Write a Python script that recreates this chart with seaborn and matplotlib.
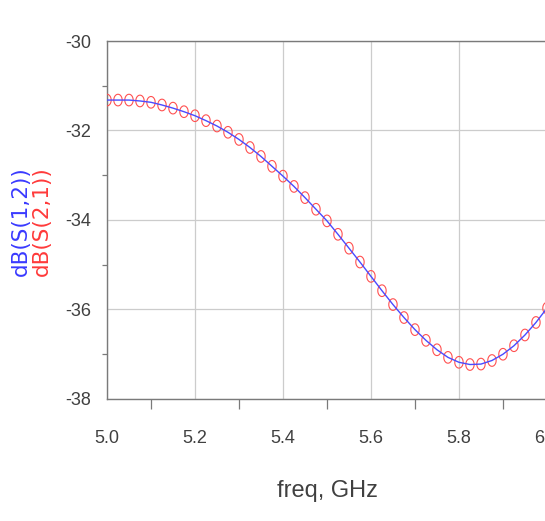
import numpy as np
import pandas as pd
import matplotlib
matplotlib.use("Agg")
import matplotlib.pyplot as plt
import seaborn as sns
from matplotlib.ticker import MultipleLocator

# data (freq in GHz, magnitude in dB)
freq = [5.000, 5.025, 5.050, 5.075, 5.100, 5.125, 5.150, 5.175, 5.200, 5.225,
        5.250, 5.275, 5.300, 5.325, 5.350, 5.375, 5.400, 5.425, 5.450, 5.475,
        5.500, 5.525, 5.550, 5.575, 5.600, 5.625, 5.650, 5.675, 5.700, 5.725,
        5.750, 5.775, 5.800, 5.825, 5.850, 5.875, 5.900, 5.925, 5.950, 5.975,
        6.000]
s12 = [-31.32, -31.32, -31.32, -31.34, -31.37, -31.43, -31.50, -31.58, -31.67, -31.78,
       -31.90, -32.04, -32.20, -32.38, -32.58, -32.80, -33.02, -33.25, -33.50, -33.76,
       -34.02, -34.32, -34.63, -34.94, -35.26, -35.58, -35.89, -36.18, -36.45, -36.69,
       -36.90, -37.07, -37.18, -37.23, -37.22, -37.14, -37.00, -36.81, -36.57, -36.29,
       -35.97]
s21 = [-31.32, -31.32, -31.32, -31.34, -31.37, -31.43, -31.50, -31.58, -31.67, -31.78,
       -31.90, -32.04, -32.20, -32.38, -32.58, -32.80, -33.02, -33.25, -33.50, -33.76,
       -34.02, -34.32, -34.63, -34.94, -35.26, -35.58, -35.89, -36.18, -36.45, -36.69,
       -36.90, -37.07, -37.18, -37.23, -37.22, -37.14, -37.00, -36.81, -36.57, -36.29,
       -35.97]
xticks = [5.0, 5.2, 5.4, 5.6, 5.8, 6.0]
xtick_labels = ["5.0", "5.2", "5.4", "5.6", "5.8", "6.0"]
yticks = [-38, -36, -34, -32, -30]

df = pd.DataFrame({"freq": freq, "s12": s12, "s21": s21})

sns.set_style("white")
narrow = ["Liberation Sans Narrow", "Liberation Sans", "DejaVu Sans"]

fig = plt.figure(figsize=(5.45, 5.21), dpi=100)
ax = fig.add_axes([0.1963, 0.2342, 0.8073, 0.6871])

# tall ellipse marker like the stretched circles in the reference
t = np.linspace(0, 2 * np.pi, 40)
ellipse = list(zip(0.72 * np.cos(t), np.sin(t)))

sns.scatterplot(data=df, x="freq", y="s21", ax=ax, marker=ellipse, s=70,
                facecolor="none", edgecolor="#ff5050", linewidth=0.8, zorder=3)
sns.lineplot(data=df, x="freq", y="s12", ax=ax, color="#4a4aff", lw=1.0, zorder=4)

ax.set_xlim(5.0, 6.0)
ax.set_ylim(-38, -30)
ax.set_xticks(xticks)
ax.set_xticklabels(xtick_labels)
ax.set_yticks(yticks)
ax.set_yticklabels([str(v) for v in yticks])
ax.xaxis.set_minor_locator(MultipleLocator(0.1))
ax.yaxis.set_minor_locator(MultipleLocator(1))

ax.grid(True, which="major", color="#cccccc", lw=0.9)
ax.set_axisbelow(True)
for side in ["left", "bottom", "top", "right"]:
    ax.spines[side].set_color("#7a7a7a")
    ax.spines[side].set_linewidth(1.0)

ax.tick_params(axis="y", which="major", direction="out", length=9.5, width=0.9,
               color="#7a7a7a", pad=2, labelsize=13, labelcolor="#404040")
ax.tick_params(axis="y", which="minor", direction="out", length=3.6, width=0.9,
               color="#7a7a7a", left=True)
ax.tick_params(axis="x", which="major", direction="out", length=14.5, width=0.9,
               color="#7a7a7a", pad=8, labelsize=13, labelcolor="#404040")
ax.tick_params(axis="x", which="minor", direction="out", length=7.2, width=0.9,
               color="#7a7a7a", bottom=True)
for lab in ax.get_xticklabels() + ax.get_yticklabels():
    lab.set_family(narrow)

ax.set_xlabel("")
ax.set_ylabel("")

fig.text(327 / 545, 1 - 497 / 521, "freq, GHz", ha="center", va="baseline",
         fontsize=17, color="#404040", family=narrow)
fig.text(21 / 545, 1 - 221 / 521, "dB(S(1,2))", rotation=90, ha="center",
         va="center", fontsize=15.5, color="#3a3aff", family="DejaVu Sans")
fig.text(42 / 545, 1 - 221 / 521, "dB(S(2,1))", rotation=90, ha="center",
         va="center", fontsize=15.5, color="#ff3a3a", family="DejaVu Sans")

fig.savefig("out.png", dpi=100)
